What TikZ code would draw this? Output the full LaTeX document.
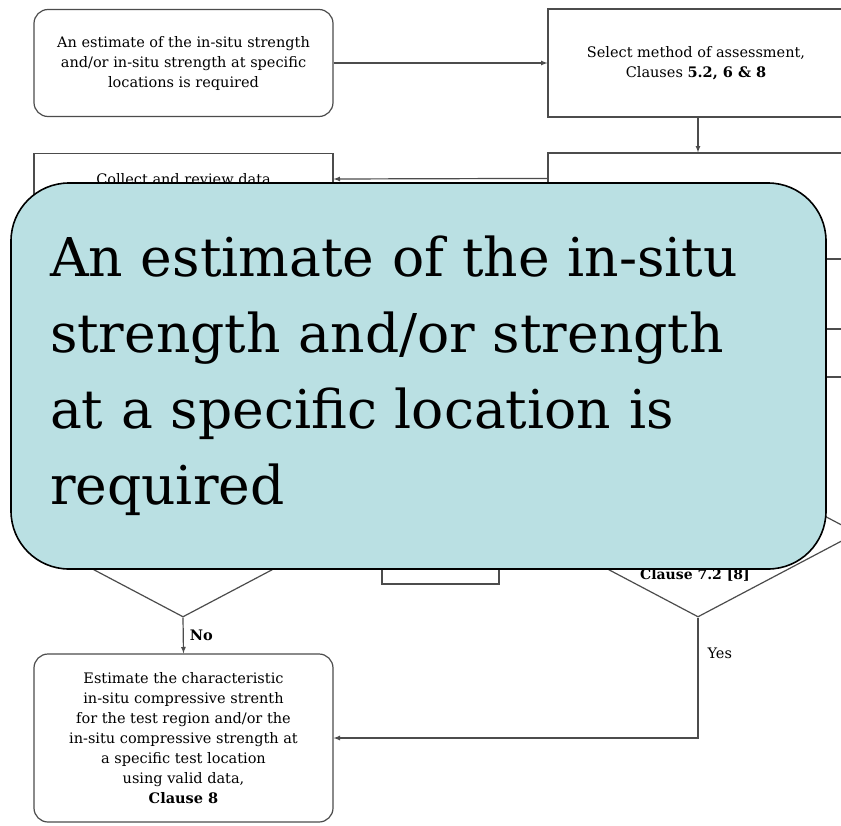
\documentclass[tikz,border=0pt]{standalone}
\usepackage{fontspec}
\usepackage{xcolor}
\usepackage{tikz}
\usetikzlibrary{arrows,shapes}
\setmainfont{DejaVu Serif}
\definecolor{tealbox}{RGB}{186,224,227}

\begin{document}
\begin{tikzpicture}[x=1pt,y=-1pt,
    every node/.style={font=\fontsize{14.5}{20}\selectfont, align=center, inner sep=0pt},
    box/.style={draw=black!70, line width=1.2pt, rectangle},
    rbox/.style={box, rounded corners=14pt},
    dia/.style={draw=black!70, line width=1.2pt, diamond, minimum width=318pt, minimum height=168pt},
    flow/.style={draw=black!70, line width=1.2pt, -latex}]
        \useasboundingbox (0,0) rectangle (841,825);
        \fill[white] (0,0) rectangle (841,825);
        % flowchart behind the note
        \node[rbox, minimum width=299pt, minimum height=107pt] (need) at (183.5,63)
            {An estimate of the in-situ strength\\and/or in-situ strength at specific\\locations is required};
        \node[box, minimum width=296pt, minimum height=108pt] (select) at (696,63)
            {Select method of assessment,\\Clauses \textbf{5.2, 6 \& 8}};
        \node[box, minimum width=296pt, minimum height=106pt] (locate) at (696,206) {};
        \node[box, minimum width=296pt, minimum height=48pt] (plan) at (696,353) {};
        \node[box, minimum width=299pt, text height=12pt, text depth=56pt, inner ysep=19pt,
            anchor=north] (collect) at (183.5,153) {Collect and review data};
        \node[dia] (checkL) at (183,533) {};
        \node[dia] (checkR) at (698,533) {};
        \node[box, minimum width=117pt, minimum height=79pt] (mid) at (440.5,544.5) {};
        \node[font=\fontsize{14}{20}\selectfont\bfseries] (clauseR) at (695,575) {Clause 7.2 [8]};
        \node[rbox, minimum width=299pt, minimum height=168pt] (estimate) at (183.5,738)
            {Estimate the characteristic\\in-situ compressive strenth\\for the test region and/or the\\in-situ compressive strength at\\a specific test location\\using valid data,\\\textbf{Clause 8}};
        \draw[flow] (need) -- (select);
        \draw[flow] ([xshift=2pt]select.south) -- ([xshift=2pt]locate.north);
        \draw[flow] ([yshift=-26pt]locate.north west) -- ([yshift=-26pt]collect.north east);
        \draw[flow] (checkL.south) -- node[right=6pt, font=\fontsize{14.5}{20}\selectfont\bfseries] (noLbl) {No} (estimate.north);
        \draw[flow] (checkR.south) |- node[pos=0.15, right=9pt] (yesLbl) {Yes} (estimate.east);
        % the note on top
        \node[draw=black, line width=1.6pt, fill=tealbox, rounded corners=58pt,
            minimum width=815pt, minimum height=386pt, text width=737pt, align=left,
            font=\fontsize{53.5}{76}\selectfont] (note) at (418.5,376)
            {An estimate of the in-situ\\strength and/or strength\\at a specific location is\\required};
    \end{tikzpicture}
\end{document}
